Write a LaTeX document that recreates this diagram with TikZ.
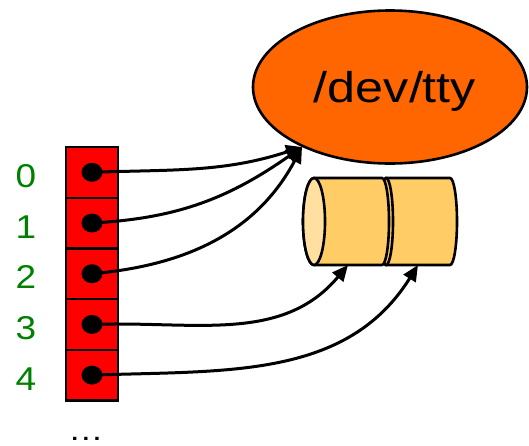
\documentclass[tikz,border=0pt]{standalone}
\usepackage{fontspec}
\setmainfont{Liberation Sans}
\usepackage{graphicx}
\usetikzlibrary{shapes.geometric,arrows.meta}
\definecolor{ttyorange}{HTML}{FF6600}
\definecolor{fdred}{HTML}{FF0000}
\definecolor{numgreen}{HTML}{008000}
\definecolor{cylbody}{HTML}{FFCC66}
\definecolor{cylend}{HTML}{FFE0A0}
\tikzset{
  cell/.style={draw=black,line width=2.4pt,fill=fdred},
  fddot/.style={ellipse,fill=black,inner sep=0pt,minimum width=21pt,minimum height=19pt},
  num/.style={text=numgreen,font=\fontsize{33}{33}\selectfont,anchor=base,inner sep=0pt},
  link/.style={line width=3pt,-{Triangle[length=16pt,width=14pt]}},
  cyl/.style={draw=black,line width=2.6pt,fill=cylbody},
}
\begin{document}
\begin{tikzpicture}[x=1pt,y=-1pt]
\useasboundingbox (0,0) rectangle (529,445);
% tty ellipse
\node[ellipse,draw=black,line width=2.6pt,fill=ttyorange,minimum width=274pt,minimum height=153pt,inner sep=0pt] (tty) at (390,87) {};
\node[anchor=base,inner sep=0pt,font=\fontsize{43}{43}\selectfont] (ttylabel) at (395,102) {\scalebox{1.17}[1]{/dev/tty}};
\coordinate (t) at (302,147);
% cylinder 2
\draw[cyl] (386,178) -- (450,178) arc[start angle=-90,end angle=90,x radius=7,y radius=43.5]
  -- (386,265) arc[start angle=90,end angle=270,x radius=7,y radius=43.5] -- cycle;
\draw[cyl] (386,221.5) ellipse[x radius=7,y radius=43.5];
% cylinder 1
\draw[cyl] (314,178) -- (382,178) arc[start angle=-90,end angle=90,x radius=7,y radius=43.5]
  -- (314,265) arc[start angle=90,end angle=270,x radius=11,y radius=43.5] -- cycle;
\draw[draw=black,line width=2.6pt,fill=cylend] (314,221.5) ellipse[x radius=11,y radius=43.5];
\coordinate (c1) at (348,265);
\coordinate (c2) at (418,265);
% fd table
\foreach \i in {0,...,4}{
  \draw[cell] (66,{147+50.7*\i}) rectangle (118,{147+50.7*(\i+1)});
  \node[fddot] (d\i) at (92,{172.3+50.7*\i}) {};
  \node[num] (n\i) at (26,{187.5+50.7*\i}) {\scalebox{1.12}[1]{\i}};
}
\node[anchor=base,inner sep=0pt,font=\fontsize{30}{30}\selectfont] (more) at (86,440) {\scalebox{1.17}[1]{…}};
% links
\draw[link] (d0.center) to[out=2,in=198] (t);
\draw[link] (d1.center) to[out=3,in=215] (t);
\draw[link] (d2.center) to[out=5,in=242] (t);
\draw[link] (d3.center) to[out=2,in=230] (c1);
\draw[link] (d4.center) to[out=2,in=238] (c2);
\end{tikzpicture}
\end{document}
